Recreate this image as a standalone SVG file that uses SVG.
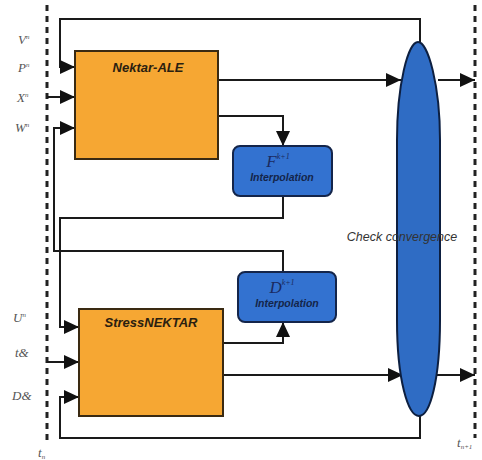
<svg xmlns="http://www.w3.org/2000/svg" width="482" height="460" viewBox="0 0 482 460">
<style>
.conn{fill:none;stroke:#1a1a1a;stroke-width:2}
.dash{fill:none;stroke:#222;stroke-width:3;stroke-dasharray:6 5}
.sol{fill:#F6A733;stroke:#3a2a12;stroke-width:2}
.interp{fill:#3372D0;stroke:#14254a;stroke-width:2}
.lbl{font-family:"Liberation Serif",serif;font-style:italic;font-size:13px;fill:#555}
.title{font-family:"Liberation Sans",sans-serif;font-style:italic;font-weight:bold;font-size:13px;fill:#2a2010;text-anchor:middle}
.ititle{font-family:"Liberation Serif",serif;font-style:italic;font-size:17px;fill:#1a2a60;text-anchor:middle}
.isub{font-family:"Liberation Sans",sans-serif;font-style:italic;font-weight:bold;font-size:10.5px;fill:#14254a;text-anchor:middle}
.check{font-family:"Liberation Sans",sans-serif;font-style:italic;font-size:12.5px;fill:#333;text-anchor:middle}
</style>
<defs>
<marker id="arr" markerUnits="userSpaceOnUse" markerWidth="18" markerHeight="16" refX="15" refY="8" orient="auto">
<path d="M0,1 L15,8 L0,15 Z" fill="#111"/>
</marker>
</defs>
<rect width="482" height="460" fill="#fff"/>
<g id="timelines">
<line class="dash" x1="47" y1="5" x2="47" y2="445"/>
<line class="dash" x1="475" y1="5" x2="475" y2="438"/>
<text class="lbl" x="38" y="457" font-size="10">t<tspan font-size="7" dy="2">n</tspan></text>
<text class="lbl" x="457" y="447" font-size="10">t<tspan font-size="7" dy="2">n+1</tspan></text>
</g>
<g id="inputs">
<text class="lbl" x="18" y="44">V<tspan font-size="7" dy="-5">n</tspan></text>
<text class="lbl" x="18" y="72">P<tspan font-size="7" dy="-5">n</tspan></text>
<text class="lbl" x="17" y="102">X<tspan font-size="7" dy="-5">n</tspan></text>
<text class="lbl" x="15" y="132">W<tspan font-size="7" dy="-5">n</tspan></text>
<text class="lbl" x="13" y="322">U<tspan font-size="7" dy="-5">n</tspan></text>
<text class="lbl" x="15" y="357">t&amp;</text>
<text class="lbl" x="12" y="400" font-size="15">D&amp;</text>
</g>
<g id="connectors">
<path class="conn" d="M420,42 V19 H60 V67 H75" marker-end="url(#arr)"/>
<path class="conn" d="M47,97 H75" marker-end="url(#arr)"/>
<path class="conn" d="M283,272 V251 H54 V128 H75" marker-end="url(#arr)"/>
<path class="conn" d="M218,80 H401" marker-end="url(#arr)"/>
<path class="conn" d="M438,80 H475" marker-end="url(#arr)"/>
<path class="conn" d="M218,116 H283 V146" marker-end="url(#arr)"/>
<path class="conn" d="M283,196 V218 H60 V327 H79" marker-end="url(#arr)"/>
<path class="conn" d="M47,362 H79" marker-end="url(#arr)"/>
<path class="conn" d="M223,343 H283 V322" marker-end="url(#arr)"/>
<path class="conn" d="M223,375 H403" marker-end="url(#arr)"/>
<path class="conn" d="M435,375 H475" marker-end="url(#arr)"/>
<path class="conn" d="M420,416 V438 H60 V397 H79" marker-end="url(#arr)"/>
</g>
<g id="nektar-ale">
<rect class="sol" x="75" y="51" width="143" height="108"/>
<text class="title" x="148" y="72">Nektar-ALE</text>
</g>
<g id="stressnektar">
<rect class="sol" x="79" y="309" width="144" height="107"/>
<text class="title" x="151" y="327">StressNEKTAR</text>
</g>
<g id="f-interp">
<rect class="interp" x="233" y="146" width="99" height="50" rx="7"/>
<text class="ititle" x="278" y="167">F<tspan font-size="8" dy="-8">k+1</tspan></text>
<text class="isub" x="282" y="181">Interpolation</text>
</g>
<g id="d-interp">
<rect class="interp" x="238" y="272" width="98" height="50" rx="7"/>
<text class="ititle" x="282" y="293">D<tspan font-size="8" dy="-8">k+1</tspan></text>
<text class="isub" x="287" y="307">Interpolation</text>
</g>
<g id="check">
<path d="M418,42 C428,42 440,85 440,140 L440,320 C440,380 430,416 419,416 C408,416 397,380 397,320 L397,140 C397,85 408,42 418,42 Z" fill="#2F6CC4" stroke="#0d1f40" stroke-width="2"/>
<text class="check" x="402" y="241">Check convergence</text>
</g>
</svg>
